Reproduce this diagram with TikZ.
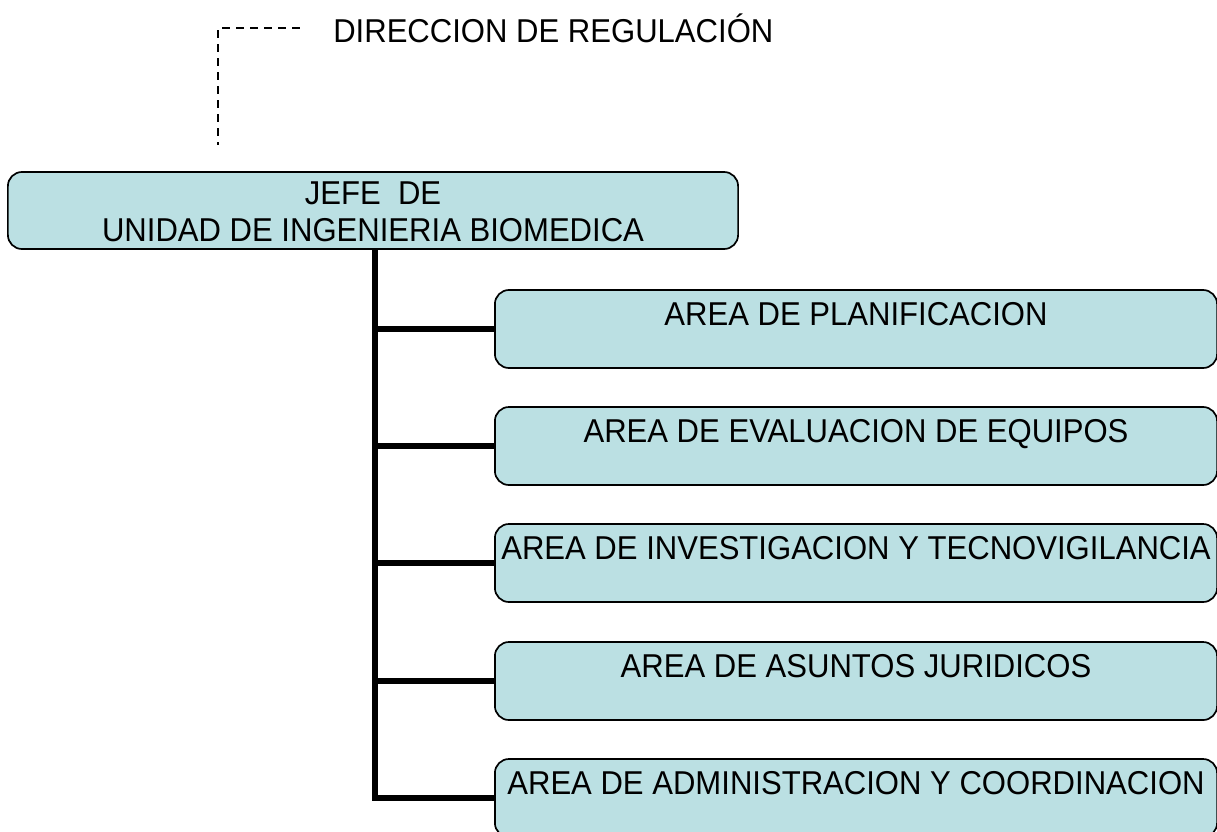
\documentclass[tikz,border=0pt]{standalone}
\usepackage{fontspec}
\setmainfont{Liberation Sans}[FakeStretch=0.94]
\definecolor{boxteal}{RGB}{187,224,227}
\usetikzlibrary{positioning}

\begin{document}
\begin{tikzpicture}[x=0.025cm, y=-0.025cm,
    unit/.style={draw, line width=1.2pt, fill=boxteal, rounded corners=10pt,
                 minimum width=18.25cm, minimum height=1.925cm,
                 inner sep=0pt, align=center},
    area/.style={draw, line width=1.2pt, fill=boxteal, rounded corners=10pt,
                 minimum width=18.05cm, minimum height=1.95cm,
                 inner sep=0pt, align=center},
    link/.style={line width=3.6pt},
    dashlink/.style={line width=1.8pt, dash pattern=on 0.2cm off 0.15cm}
  ]
    \useasboundingbox (0,0) rectangle (1217,831);
    \fontsize{23.5pt}{26.3pt}\selectfont

    % Top: Direccion
    \node[anchor=west, inner sep=0pt] (reg) at (333,28) {DIRECCION DE REGULACIÓN};
    \coordinate (dend) at (218,145);
    \draw[dashlink] ([xshift=-0.825cm]reg.west) -| (dend);

    % Jefe de unidad
    \node[unit] (chief) at (373,210.5)
      {\\[-0.3cm]JEFE\ \ DE\\UNIDAD DE INGENIERIA BIOMEDICA};

    % Areas
    \node[area] (plan) at (856,329)
      {AREA DE PLANIFICACION\\[-0.45cm]\strut};
    \node[area] (eval) at (856,446)
      {AREA DE EVALUACION DE EQUIPOS\\[-0.45cm]\strut};
    \node[area] (inv) at (856,563)
      {AREA DE INVESTIGACION Y TECNOVIGILANCIA\\[-0.45cm]\strut};
    \node[area] (jur) at (856,681)
      {AREA DE ASUNTOS JURIDICOS\\[-0.45cm]\strut};
    \node[area] (admin) at (856,798)
      {AREA DE ADMINISTRACION Y COORDINACION\\[-0.45cm]\strut};

    % Links from the chief to each area
    \draw[link] ([xshift=0.05cm]chief.south) |- (admin.west);
    \foreach \a in {plan,eval,inv,jur}
      \draw[link] ([xshift=0.05cm]chief.south |- \a.west) -- (\a.west);
  \end{tikzpicture}
\end{document}
